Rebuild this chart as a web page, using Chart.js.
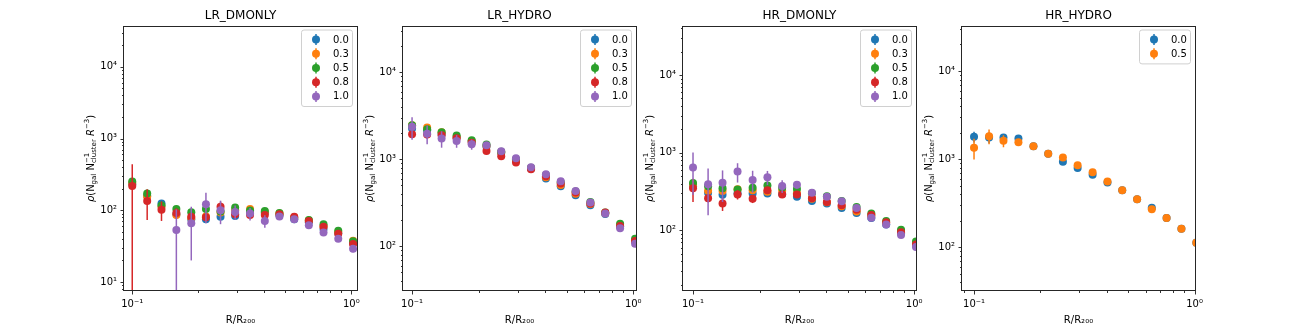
<!DOCTYPE html>
<html>
<head>
<meta charset="utf-8">
<script src="https://cdn.jsdelivr.net/npm/chart.js@4.4.0/dist/chart.umd.min.js"></script>
<style>
  body { margin: 0; background: #fff; }
  #wrap { position: relative; width: 1316px; height: 329px; }
  #wrap canvas { position: absolute; top: 0; }
</style>
</head>
<body>
<div id="wrap"></div>
<script>
// radial bins (R/R200), same for every panel
const radii = [0.100, 0.117, 0.136, 0.159, 0.186, 0.217, 0.253, 0.295, 0.345, 0.403, 0.470, 0.549, 0.640, 0.747, 0.872, 1.019];

// LR_DMONLY
const lrDm00 = [230, 160, 124, 88, 75, 75, 81, 83, 95, 92, 85, 75, 68, 55, 48, 35];
const lrDm03 = [240, 155, 112, 86, 78, 82, 93, 100, 104, 95, 90, 80, 72, 60, 50, 37.5];
const lrDm05 = [251, 171, 117, 104, 94, 104, 96, 109, 99, 98, 92, 78, 73, 64, 52, 37];
const lrDm08 = [218, 135, 102, 92, 81, 80, 112, 88, 86, 86, 88, 81, 71, 59, 47, 34];
const lrDm10 = [null, null, null, 53, 66, 121, 100, 95, 90, 71, 82, 75, 62, 49, 40, 29];
const lrDm00Err = [30, 20, 12, 8, 7, 6, 6, 5, 5, 4, 4, 3, 3, 3, 2, 2];
const lrDm03Err = [35, 25, 14, 9, 8, 7, 7, 6, 5, 5, 4, 4, 3, 3, 2, 2];
const lrDm05Err = [30, 22, 13, 9, 8, 7, 7, 6, 5, 5, 4, 4, 3, 3, 2, 2];
const lrDm08Err = [220, 62, 31, 15, 10, 12, 20, 10, 8, 7, 5, 4, 4, 3, 3, 2];
const lrDm10Err = [null, null, null, 50, 46, 55, 36, 22, 18, 14, 8, 6, 5, 4, 3, 3];

// LR_HYDRO
const lrHy00 = [2250, 2150, 1950, 1780, 1600, 1400, 1190, 970, 780, 600, 489, 386, 296, 235, 170, 115];
const lrHy03 = [2460, 2310, 2045, 1800, 1620, 1420, 1200, 980, 790, 620, 507, 400, 305, 240, 175, 115];
const lrHy05 = [2460, 2210, 2045, 1870, 1653, 1480, 1220, 1000, 800, 660, 545, 425, 322, 245, 182, 122];
const lrHy08 = [1940, 1920, 1888, 1743, 1550, 1247, 1082, 916, 767, 638, 525, 415, 310, 245, 171, 115];
const lrHy10 = [2360, 1970, 1727, 1625, 1487, 1449, 1236, 1027, 809, 672, 559, 432, 318, 238, 161, 107];
const lrHy00Err = [200, 150, 120, 100, 80, 60, 50, 40, 30, 25, 20, 15, 12, 10, 8, 6];
const lrHy03Err = [220, 160, 130, 100, 80, 60, 50, 40, 30, 25, 20, 15, 12, 10, 8, 6];
const lrHy05Err = [210, 160, 130, 100, 80, 60, 50, 40, 30, 25, 20, 15, 12, 10, 8, 6];
const lrHy08Err = [150, 200, 150, 120, 90, 70, 55, 45, 35, 28, 22, 18, 14, 10, 8, 6];
const lrHy10Err = [680, 480, 370, 270, 200, 120, 80, 60, 45, 35, 28, 22, 16, 12, 9, 7];

// HR_DMONLY
const hrDm00 = [370, 305, 288, 300, 299, 299, 295, 271, 240, 222, 195, 168, 145, 119, 92, 64];
const hrDm03 = [390, 324, 321, 340, 330, 315, 324, 300, 255, 230, 205, 175, 155, 125, 98, 68];
const hrDm05 = [408, 370, 348, 337, 355, 380, 355, 341, 300, 275, 240, 200, 165, 132, 102, 72];
const hrDm08 = [348, 260, 222, 290, 255, 328, 290, 290, 260, 233, 211, 185, 158, 127, 95, 66];
const hrDm10 = [645, 392, 412, 573, 446, 483, 373, 388, 305, 271, 238, 195, 146, 119, 87, 61];
const hrDm00Err = [40, 30, 25, 22, 20, 18, 15, 12, 10, 9, 8, 7, 6, 5, 4, 3];
const hrDm03Err = [60, 40, 30, 28, 25, 20, 18, 15, 12, 10, 9, 8, 6, 5, 4, 3];
const hrDm05Err = [50, 40, 30, 28, 25, 20, 18, 15, 12, 10, 9, 8, 6, 5, 4, 3];
const hrDm08Err = [115, 30, 44, 40, 30, 25, 20, 15, 12, 10, 9, 8, 6, 5, 4, 3];
const hrDm10Err = [360, 235, 180, 160, 140, 100, 70, 45, 25, 18, 14, 10, 8, 6, 5, 4];

// HR_HYDRO
const hrHy00 = [1795, 1763, 1763, 1718, 1405, 1150, 933, 797, 664, 545, 444, 351, 282, 215, 163, 113];
const hrHy05 = [1345, 1825, 1616, 1561, 1405, 1150, 1045, 855, 711, 560, 444, 351, 270, 215, 163, 113];
const hrHy00Err = [250, 250, 100, 80, 60, 40, 30, 25, 20, 15, 12, 10, 8, 6, 5, 4];
const hrHy05Err = [355, 350, 250, 130, 80, 50, 35, 28, 22, 18, 14, 10, 8, 6, 5, 4];

const panelTitles = ['LR_DMONLY', 'LR_HYDRO', 'HR_DMONLY', 'HR_HYDRO'];
const xLimits = [[0.0917, 1.062], [0.091, 1.029], [0.0901, 1.019], [0.0882, 1.005]];
const yLimits = [[7.5, 37000], [30.6, 34000], [16.6, 42800], [32, 32400]];
const xMajorTicks = [0.1, 1];
const xTickLabels = ['10\u207B\u00B9', '10\u2070'];
const yMajorTicks = [10, 100, 1000, 10000];
const yTickLabels = ['10\u00B9', '10\u00B2', '10\u00B3', '10\u2074'];
const tickMultipliers = [1, 2, 3, 4, 5, 6, 7, 8, 9];

const colors = ['#1f77b4', '#ff7f0e', '#2ca02c', '#d62728', '#9467bd'];

const panelSeries = [
  [['0.0', lrDm00, lrDm00Err], ['0.3', lrDm03, lrDm03Err], ['0.5', lrDm05, lrDm05Err], ['0.8', lrDm08, lrDm08Err], ['1.0', lrDm10, lrDm10Err]],
  [['0.0', lrHy00, lrHy00Err], ['0.3', lrHy03, lrHy03Err], ['0.5', lrHy05, lrHy05Err], ['0.8', lrHy08, lrHy08Err], ['1.0', lrHy10, lrHy10Err]],
  [['0.0', hrDm00, hrDm00Err], ['0.3', hrDm03, hrDm03Err], ['0.5', hrDm05, hrDm05Err], ['0.8', hrDm08, hrDm08Err], ['1.0', hrDm10, hrDm10Err]],
  [['0.0', hrHy00, hrHy00Err], ['0.5', hrHy05, hrHy05Err]]
];

const FONT = 'DejaVu Sans';

// error bars drawn just before each dataset's markers (matplotlib errorbar order)
const errorBars = {
  id: 'errorBars',
  beforeDatasetDraw(chart, args) {
    const ds = chart.data.datasets[args.index];
    if (!ds.errors) return;
    const ctx = chart.ctx, a = chart.chartArea;
    const xs = chart.scales.x, ys = chart.scales.y;
    ctx.save();
    ctx.beginPath();
    ctx.rect(a.left, a.top, a.right - a.left, a.bottom - a.top);
    ctx.clip();
    ctx.strokeStyle = ds.backgroundColor;
    ctx.lineWidth = 1.5;
    ds.data.forEach((p, i) => {
      const e = ds.errors[i];
      if (p.y == null || !e) return;
      const px = xs.getPixelForValue(p.x);
      const lo = p.y - e > 0 ? ys.getPixelForValue(p.y - e) : a.bottom + 10;
      const hi = ys.getPixelForValue(p.y + e);
      ctx.beginPath();
      ctx.moveTo(px, lo);
      ctx.lineTo(px, hi);
      ctx.stroke();
    });
    ctx.restore();
  }
};

function isDecade(v) {
  const l = Math.log10(v);
  return Math.abs(l - Math.round(l)) < 1e-6;
}

function drawYTitle(ctx, x, y) {
  const big = '10px "' + FONT + '"', bigIt = 'italic 10px "' + FONT + '"', small = '7px "' + FONT + '"';
  // [font, text, dy, stacked text, stacked dy]
  const segs = [[bigIt, '\u03C1', 0], [big, '(N', 0], [small, 'gal', 2.5], [big, ' N', 0],
    [small, 'cluster', 2.5, '\u22121', -4.5], [big, ' ', 0], [bigIt, 'R', 0], [small, '\u22123', -4.5], [big, ')', 0]];
  ctx.save();
  ctx.translate(x, y);
  ctx.rotate(-Math.PI / 2);
  ctx.fillStyle = '#000';
  ctx.textBaseline = 'alphabetic';
  ctx.textAlign = 'left';
  let total = 0;
  const widths = segs.map(s => {
    ctx.font = s[0];
    let w = ctx.measureText(s[1]).width;
    if (s[3]) w = Math.max(w, ctx.measureText(s[3]).width);
    total += w;
    return w;
  });
  let cx = -total / 2;
  segs.forEach((s, i) => {
    ctx.font = s[0];
    ctx.fillText(s[1], cx, 3.5 + s[2]);
    if (s[3]) ctx.fillText(s[3], cx, 3.5 + s[4]);
    cx += widths[i];
  });
  ctx.restore();
}

const panelDecor = {
  id: 'panelDecor',
  afterDraw(chart) {
    const ctx = chart.ctx, a = chart.chartArea;
    ctx.save();
    // tick marks: major 3.5px, minor 2px, pointing out
    ctx.strokeStyle = '#000';
    ctx.lineWidth = 0.8;
    chart.scales.x.ticks.forEach(t => {
      const px = Math.round(chart.scales.x.getPixelForValue(t.value)) + 0.5;
      const len = isDecade(t.value) ? 3.5 : 2;
      ctx.beginPath(); ctx.moveTo(px, a.bottom); ctx.lineTo(px, a.bottom + len); ctx.stroke();
    });
    chart.scales.y.ticks.forEach(t => {
      const py = Math.round(chart.scales.y.getPixelForValue(t.value)) + 0.5;
      const len = isDecade(t.value) ? 3.5 : 2;
      ctx.beginPath(); ctx.moveTo(a.left, py); ctx.lineTo(a.left - len, py); ctx.stroke();
    });
    // axes frame
    ctx.lineWidth = 1;
    ctx.strokeStyle = '#262626';
    ctx.strokeRect(Math.round(a.left) - 0.5, Math.round(a.top) + 0.5, Math.round(a.right - a.left) + 1, Math.round(a.bottom - a.top) - 1);
    // y axis title
    drawYTitle(ctx, a.left - 34, (a.top + a.bottom) / 2);
    // legend (upper right, inside axes)
    const sets = chart.data.datasets;
    const rowH = 14.2, w = 51, h = rowH * sets.length + 5.5;
    const bx = a.right - 5 - w, by = a.top + 3.5;
    ctx.beginPath();
    ctx.roundRect(bx + 0.5, by + 0.5, w, h, 2.5);
    ctx.fillStyle = 'rgba(255,255,255,0.8)';
    ctx.fill();
    ctx.strokeStyle = '#d0d0d0';
    ctx.lineWidth = 1;
    ctx.stroke();
    ctx.font = '10px "' + FONT + '"';
    ctx.textBaseline = 'middle';
    ctx.textAlign = 'left';
    sets.forEach((ds, i) => {
      const cy = by + 3 + rowH / 2 + i * rowH;
      const mx = bx + 15;
      ctx.strokeStyle = ds.backgroundColor;
      ctx.lineWidth = 1.5;
      ctx.beginPath(); ctx.moveTo(mx, cy - 5.5); ctx.lineTo(mx, cy + 5.5); ctx.stroke();
      ctx.fillStyle = ds.backgroundColor;
      ctx.beginPath(); ctx.arc(mx, cy, 4, 0, Math.PI * 2); ctx.fill();
      ctx.fillStyle = '#000';
      ctx.fillText(ds.label, bx + 32, cy + 0.5);
    });
    ctx.restore();
  }
};

function logTicks(majors, labels) {
  return {
    build(scale) {
      const ticks = [];
      const lo = Math.floor(Math.log10(scale.min)), hi = Math.ceil(Math.log10(scale.max));
      for (let e = lo; e <= hi; e++) {
        tickMultipliers.forEach(m => {
          const v = m * Math.pow(10, e);
          if (v >= scale.min && v <= scale.max) ticks.push({ value: v });
        });
      }
      scale.ticks = ticks;
    },
    label(v) {
      const k = majors.findIndex(t => Math.abs(Math.log10(t) - Math.log10(v)) < 1e-6);
      return k >= 0 ? labels[k] : '';
    }
  };
}

const wrap = document.getElementById('wrap');
const yAxisWidth = 64, chartWidth = 233, padRight = 16;

panelTitles.forEach((title, p) => {
  const canvas = document.createElement('canvas');
  const left = 124 + p * 279.3;
  canvas.width = yAxisWidth + chartWidth + padRight;
  canvas.height = 329;
  canvas.style.left = (left - yAxisWidth) + 'px';
  wrap.appendChild(canvas);

  const n = panelSeries[p].length;
  const datasets = panelSeries[p].map((s, i) => ({
    label: s[0],
    data: radii.map((r, k) => ({ x: r, y: s[1][k] })),
    errors: s[2],
    backgroundColor: colors[i],
    borderColor: colors[i],
    pointRadius: 4,
    pointHoverRadius: 4,
    pointBorderWidth: 0,
    order: n - i,
    clip: 0
  }));

  const xt = logTicks(xMajorTicks, xTickLabels);
  const yt = logTicks(yMajorTicks, yTickLabels);

  new Chart(canvas, {
    type: 'scatter',
    data: { datasets: datasets },
    options: {
      responsive: false,
      animation: false,
      events: [],
      layout: { padding: { left: 0, right: padRight, top: 0, bottom: 0 } },
      plugins: {
        legend: { display: false },
        tooltip: { enabled: false },
        title: {
          display: true,
          fullSize: false,
          text: title,
          color: '#000',
          font: { family: FONT, size: 12, weight: 'normal' },
          padding: { top: 8.8, bottom: 2.8 }
        }
      },
      scales: {
        x: {
          type: 'logarithmic',
          bounds: 'data',
          min: xLimits[p][0],
          max: xLimits[p][1],
          afterBuildTicks: xt.build,
          afterFit(s) { s.height = 38; s.paddingLeft = 0; s.paddingRight = 0; },
          grid: { display: false, drawTicks: false },
          border: { display: false },
          ticks: {
            autoSkip: false, maxRotation: 0, padding: 7, color: '#000',
            font: { family: FONT, size: 10 },
            callback: v => xt.label(v)
          },
          title: {
            display: true, text: 'R/R\u2082\u2080\u2080', color: '#000',
            font: { family: FONT, size: 10 },
            padding: { top: 0, bottom: 3 }
          }
        },
        y: {
          type: 'logarithmic',
          bounds: 'data',
          min: yLimits[p][0],
          max: yLimits[p][1],
          afterBuildTicks: yt.build,
          afterFit(s) { s.width = yAxisWidth; s.paddingTop = 0; s.paddingBottom = 0; },
          grid: { display: false, drawTicks: false },
          border: { display: false },
          ticks: {
            autoSkip: false, padding: 7, color: '#000',
            font: { family: FONT, size: 10 },
            callback: v => yt.label(v)
          }
        }
      }
    },
    plugins: [errorBars, panelDecor]
  });
});
</script>
</body>
</html>
